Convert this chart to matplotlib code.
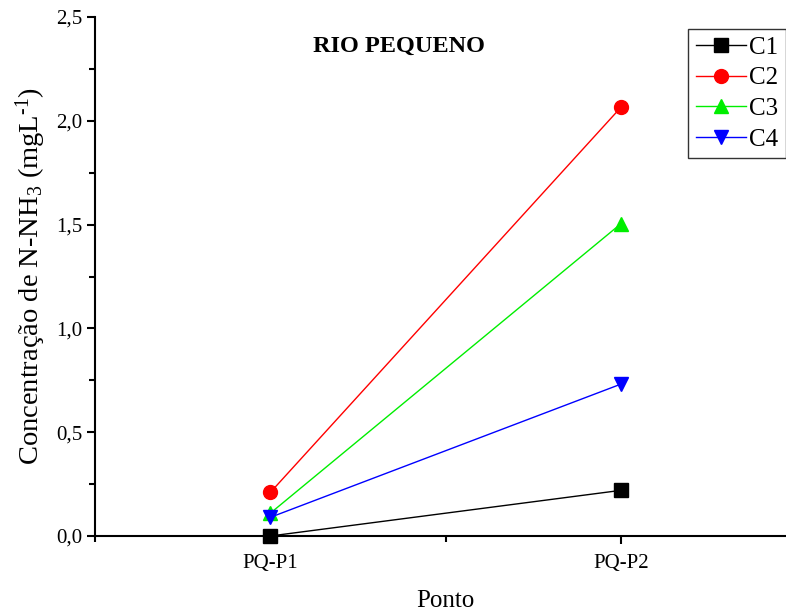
import matplotlib
matplotlib.use("Agg")
import matplotlib.pyplot as plt
from matplotlib.ticker import MultipleLocator

plt.rcParams['font.family'] = ['Liberation Serif', 'DejaVu Serif']
plt.rcParams['mathtext.fontset'] = 'custom'
plt.rcParams['mathtext.rm'] = 'Liberation Serif'
plt.rcParams['mathtext.it'] = 'Liberation Serif:italic'
plt.rcParams['mathtext.default'] = 'rm'

points = ["PQ-P1", "PQ-P2"]
series_names = ["C1", "C2", "C3", "C4"]
c1 = [0.0, 0.22]
c2 = [0.21, 2.066]
c3 = [0.11, 1.505]
c4 = [0.09, 0.732]
values = [c1, c2, c3, c4]
colors = ["black", "red", "#00ee00", "blue"]
markers = ["s", "o", "^", "v"]

W, H = 786, 614
fig = plt.figure(figsize=(W/100, H/100), dpi=100)
ax = fig.add_axes([95/W, (H-536)/H, 701.5/W, 519/H])

x = [1, 2]
handles = []
for name, vals, col, mk in zip(series_names, values, colors, markers):
    h, = ax.plot(x, vals, color=col, marker=mk, markersize=10, linewidth=1,
                 label=name, clip_on=False, zorder=3)
    handles.append(h)

ax.set_xlim(0.5, 2.5)
ax.set_ylim(0, 2.5)
ax.set_xticks(x)
ax.set_xticklabels(points)
ax.xaxis.set_minor_locator(MultipleLocator(0.5))
ax.yaxis.set_major_locator(MultipleLocator(0.5))
ax.yaxis.set_minor_locator(MultipleLocator(0.25))
ax.yaxis.set_major_formatter(plt.FuncFormatter(lambda v, p: f"{v:.1f}".replace('.', ',')))
ax.spines['top'].set_visible(False)
ax.spines['right'].set_visible(False)
for s in ['left', 'bottom']:
    ax.spines[s].set_linewidth(1.5)
ax.tick_params(which='major', direction='out', length=6, width=1.5, labelsize=15)
ax.tick_params(which='minor', direction='out', length=4, width=1.5)
ax.tick_params(axis='x', pad=7)
ax.tick_params(axis='y', pad=3)

ax.set_xlabel("Ponto", fontsize=18, labelpad=12)
ax.set_ylabel("Concentração de N-NH$_3$ (mgL$^{\\text{-}1}$)", fontsize=20.5, labelpad=6)
fig.text(399/W, 1-46/H, "RIO PEQUENO", fontsize=17.5, fontweight='bold',
         ha='center', va='center')

leg = fig.legend(handles=handles, loc='upper left', bbox_to_anchor=(688/W, 1-29/H),
                 fontsize=18, frameon=True, fancybox=False, edgecolor='black',
                 handlelength=2.0, handletextpad=0.15, borderpad=0.3, labelspacing=0.32,
                 borderaxespad=0)
leg.get_frame().set_linewidth(1.0)

fig.savefig("out.png", dpi=100)
